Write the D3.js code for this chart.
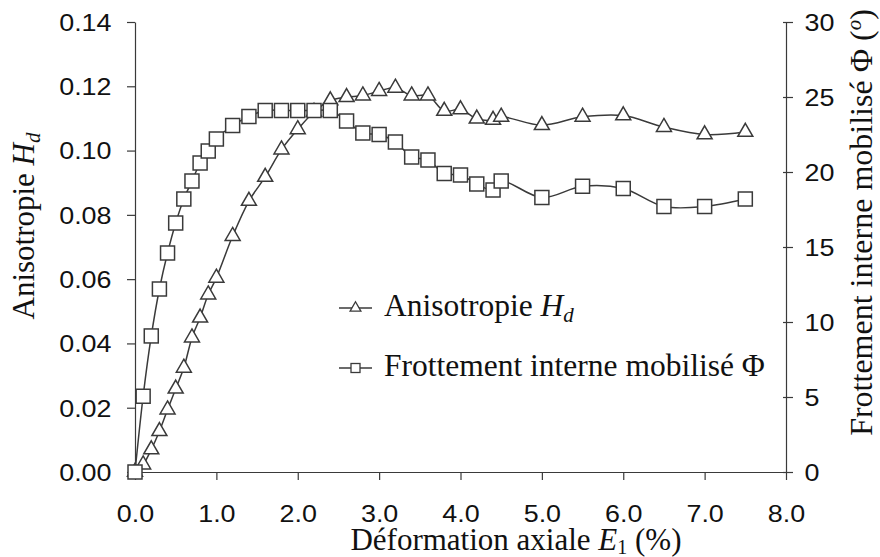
<!DOCTYPE html>
<html>
<head>
<meta charset="utf-8">
<script src="https://cdn.jsdelivr.net/npm/d3@7"></script>
<style>
  html, body { margin: 0; padding: 0; background: #fff; }
  svg { display: block; }
</style>
</head>
<body>
<svg id="chart" width="880" height="557"></svg>
<script>
// ---- data ----
const strain = [0, 0.1, 0.2, 0.3, 0.4, 0.5, 0.6, 0.7, 0.8, 0.9, 1.0, 1.2, 1.4, 1.6, 1.8, 2.0, 2.2, 2.4, 2.6, 2.8, 3.0, 3.2, 3.4, 3.6, 3.8, 4.0, 4.2, 4.4, 4.5, 5.0, 5.5, 6.0, 6.5, 7.0, 7.5];
const anisotropy = [0, 0.0023, 0.0070, 0.0127, 0.0194, 0.0259, 0.0324, 0.0418, 0.0480, 0.0552, 0.0604, 0.0734, 0.0843, 0.0918, 0.1003, 0.1066, 0.1120, 0.1156, 0.1166, 0.1171, 0.1185, 0.1195, 0.1171, 0.1171, 0.1123, 0.1128, 0.1099, 0.1095, 0.1105, 0.1079, 0.1105, 0.1109, 0.1073, 0.1050, 0.1058];
const friction = [0, 5.05, 9.07, 12.2, 14.6, 16.6, 18.2, 19.4, 20.6, 21.4, 22.2, 23.1, 23.7, 24.1, 24.1, 24.1, 24.1, 24.1, 23.4, 22.6, 22.5, 22.0, 21.0, 20.8, 19.9, 19.8, 19.2, 18.8, 19.4, 18.3, 19.05, 18.9, 17.7, 17.7, 18.2];
const xTicks = [0, 1, 2, 3, 4, 5, 6, 7, 8];
const leftTicks = [0, 0.02, 0.04, 0.06, 0.08, 0.10, 0.12, 0.14];
const rightTicks = [0, 5, 10, 15, 20, 25, 30];

// ---- layout ----
const svg = d3.select("#chart");
const X0 = 135, X1 = 786, Y0 = 472, Y1 = 22;
const x = d3.scaleLinear().domain([0, 8]).range([X0, X1]);
const yL = d3.scaleLinear().domain([0, 0.14]).range([Y0, Y1]);
const yR = d3.scaleLinear().domain([0, 30]).range([Y0, Y1]);

const INK = "#3a3a3a";
const SANS = "'Liberation Sans', Arial, sans-serif";
const SERIF = "'Liberation Serif', 'Times New Roman', serif";
const STRETCH = 1.12;

function styleAxis(g) {
  g.select(".domain").attr("stroke", INK).attr("stroke-width", 1.2);
  g.selectAll(".tick line").attr("stroke", INK).attr("stroke-width", 1.2);
  g.selectAll(".tick text")
    .attr("font-family", SANS).attr("font-size", 24).attr("fill", "#111");
}

// x axis
const gx = svg.append("g").attr("transform", `translate(0,${Y0})`)
  .call(d3.axisBottom(x).tickValues(xTicks).tickFormat(d3.format(".1f")).tickSize(8).tickSizeOuter(0));
styleAxis(gx);
gx.selectAll(".tick text").attr("y", 50).attr("dy", 0)
  .attr("transform", `scale(${STRETCH},1)`);

// left axis
const gl = svg.append("g").attr("transform", `translate(${X0},0)`)
  .call(d3.axisLeft(yL).tickValues(leftTicks).tickFormat(d3.format(".2f")).tickSize(8).tickSizeOuter(0));
styleAxis(gl);
gl.selectAll(".tick text").attr("x", -23.5 / STRETCH).attr("dy", "0.35em")
  .attr("transform", `scale(${STRETCH},1)`);

// right axis
const gr = svg.append("g").attr("transform", `translate(${X1},0)`)
  .call(d3.axisRight(yR).tickValues(rightTicks).tickFormat(d3.format("d")).tickSize(7).tickSizeOuter(0));
styleAxis(gr);
gr.selectAll(".tick line").attr("x1", -3);
gr.selectAll(".tick text").attr("x", 18.5 / STRETCH).attr("dy", "0.35em")
  .attr("transform", `scale(${STRETCH},1)`);

// ---- series ----
const triW = 15, triH = 13;
function triPath(s) {
  const w = triW * s, h = triH * s;
  return `M0,${-2 * h / 3}L${w / 2},${h / 3}L${-w / 2},${h / 3}Z`;
}
const sq = 14;

const ptsA = strain.map((e, i) => [x(e), yL(anisotropy[i])]);
const ptsF = strain.map((e, i) => [x(e), yR(friction[i])]);
const line = d3.line().curve(d3.curveCatmullRom.alpha(0.5));

const gA = svg.append("g");
gA.append("path").attr("d", line(ptsA)).attr("fill", "none").attr("stroke", INK).attr("stroke-width", 1.5);
gA.selectAll("path.m").data(ptsA).join("path").attr("class", "m")
  .attr("transform", d => `translate(${d[0]},${d[1]})`)
  .attr("d", triPath(1)).attr("fill", "#fff").attr("stroke", INK).attr("stroke-width", 1.5);

const gF = svg.append("g");
gF.append("path").attr("d", line(ptsF)).attr("fill", "none").attr("stroke", INK).attr("stroke-width", 1.5);
gF.selectAll("rect").data(ptsF).join("rect")
  .attr("x", d => d[0] - sq / 2).attr("y", d => d[1] - sq / 2)
  .attr("width", sq).attr("height", sq)
  .attr("fill", "#fff").attr("stroke", INK).attr("stroke-width", 1.5);

// ---- axis titles ----
const xt = svg.append("text").attr("x", 516).attr("y", 550).attr("text-anchor", "middle")
  .attr("font-family", SERIF).attr("font-size", 31).attr("fill", "#111");
xt.append("tspan").text("Déformation axiale ");
xt.append("tspan").attr("font-style", "italic").text("E");
xt.append("tspan").attr("font-size", 20).attr("dy", 4).text("1");
xt.append("tspan").attr("dy", -4).text(" (%)");

const lt = svg.append("text").attr("transform", "translate(33.5,226) rotate(-90)").attr("text-anchor", "middle")
  .attr("font-family", SERIF).attr("font-size", 31).attr("fill", "#111");
lt.append("tspan").text("Anisotropie ");
lt.append("tspan").attr("font-style", "italic").text("H");
lt.append("tspan").attr("font-style", "italic").attr("font-size", 21).attr("dy", 6).text("d");

const rt = svg.append("text").attr("transform", "translate(872,222.5) rotate(-90)").attr("text-anchor", "middle")
  .attr("font-family", SERIF).attr("font-size", 32).attr("fill", "#111");
rt.append("tspan").text("Frottement interne mobilisé Φ (");
rt.append("tspan").attr("font-style", "italic").attr("font-size", 21).attr("dy", -11).text("o");
rt.append("tspan").attr("dy", 11).text(")");

// ---- legend ----
const leg = svg.append("g");
const rows = [
  { y: 308, type: "tri" },
  { y: 368, type: "sq" }
];
rows.forEach(r => {
  leg.append("line").attr("x1", 339).attr("x2", 372).attr("y1", r.y).attr("y2", r.y)
    .attr("stroke", INK).attr("stroke-width", 1.3);
  if (r.type === "tri") {
    leg.append("path").attr("transform", `translate(355.5,${r.y})`).attr("d", triPath(0.72))
      .attr("fill", "#fff").attr("stroke", INK).attr("stroke-width", 1.3);
  } else {
    leg.append("rect").attr("x", 351).attr("y", r.y - 4.5).attr("width", 9).attr("height", 9)
      .attr("fill", "#fff").attr("stroke", INK).attr("stroke-width", 1.3);
  }
});
const l1 = leg.append("text").attr("x", 384).attr("y", 316).attr("font-family", SERIF).attr("font-size", 31.5).attr("fill", "#111");
l1.append("tspan").text("Anisotropie ");
l1.append("tspan").attr("font-style", "italic").text("H");
l1.append("tspan").attr("font-style", "italic").attr("font-size", 21).attr("dy", 6).text("d");
const l2 = leg.append("text").attr("x", 384).attr("y", 376).attr("font-family", SERIF).attr("font-size", 31.5).attr("fill", "#111");
l2.append("tspan").text("Frottement interne mobilisé Φ");
</script>
</body>
</html>
